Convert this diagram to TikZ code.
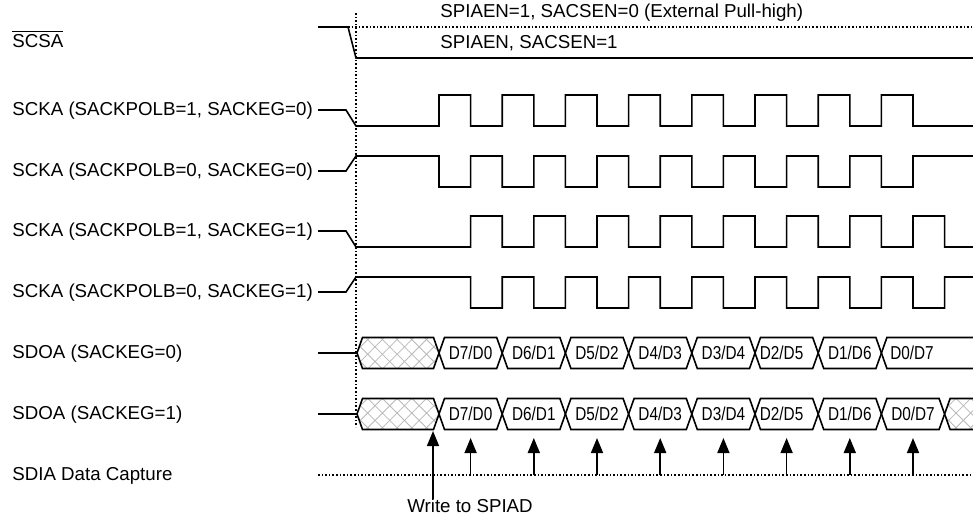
\documentclass[tikz,border=0pt]{standalone}
\usepackage{fontspec}
\setmainfont{Liberation Sans}
\newfontfamily\narrowsans[FakeStretch=0.82]{Liberation Sans}
\usetikzlibrary{arrows.meta,patterns.meta}

\begin{document}
\begin{tikzpicture}[
  x=0.5pt, y=-0.5pt,
  >={Triangle[width=6pt,length=7.5pt]},
  sig/.style={line width=0.8pt},
  guide/.style={line width=0.6pt, dash pattern=on 0.8pt off 1pt},
  lbl/.style={anchor=west, inner sep=0pt, font=\fontsize{9.35}{11}\selectfont},
  bits/.style={inner sep=0pt, font=\narrowsans\fontsize{9.35}{11}\selectfont},
  note/.style={inner sep=0pt, font=\fontsize{9.35}{11}\selectfont},
  hatch/.style={preaction={fill=white},
    preaction={pattern={Lines[angle=45,distance=5.2pt,line width=0.4pt]}, pattern color=gray!55},
    preaction={pattern={Lines[angle=-45,distance=5.2pt,line width=0.4pt]}, pattern color=gray!55}},
]
\useasboundingbox (0,0) rectangle (973,516);

% signal names
\node[lbl] (scsa) at (12,39) {$\overline{\mbox{SCSA}}$};
\node[lbl] (scka1) at (12,111) {SCKA (SACKPOLB=1, SACKEG=0)};
\node[lbl] (scka2) at (12,172) {SCKA (SACKPOLB=0, SACKEG=0)};
\node[lbl] (scka3) at (12,232) {SCKA (SACKPOLB=1, SACKEG=1)};
\node[lbl] (scka4) at (12,293) {SCKA (SACKPOLB=0, SACKEG=1)};
\node[lbl] (sdoa0) at (12,354) {SDOA (SACKEG=0)};
\node[lbl] (sdoa1) at (12,415) {SDOA (SACKEG=1)};
\node[lbl] (sdia) at (12,476) {SDIA Data Capture};

% chip select
\node[lbl] (pullhi) at (440,13) {SPIAEN=1, SACSEN=0 (External Pull-high)};
\node[lbl] (actlo) at (440,43) {SPIAEN, SACSEN=1};
\draw[sig] (318,27) -- (348,27) -- (356,58) -- (973,58);
\draw[guide] (348,27) -- (973,27);
\draw[guide] (356,13) -- (356,427);

% clocks
\draw[sig] (318,110) -- (346,110) -- (356,126)
  foreach \k in {0,...,7} { -- ({439+63.2*\k},126) -- ++(0,-31) -- ++(31.6,0) -- ++(0,31) }
  -- (973,126);
\draw[sig] (318,171) -- (346,171) -- (356,156)
  foreach \k in {0,...,7} { -- ({439+63.2*\k},156) -- ++(0,31) -- ++(31.6,0) -- ++(0,-31) }
  -- (973,156);
\draw[sig] (318,231) -- (346,231) -- (356,247)
  foreach \k in {0,...,7} { -- ({470.6+63.2*\k},247) -- ++(0,-31) -- ++(31.6,0) -- ++(0,31) }
  -- (973,247);
\draw[sig] (318,292) -- (346,292) -- (356,277)
  foreach \k in {0,...,7} { -- ({470.6+63.2*\k},277) -- ++(0,31) -- ++(31.6,0) -- ++(0,-31) }
  -- (973,277);

% data out
\foreach \ym/\n in {353/6, 414/7} {
  \draw[sig] (318,\ym) -- (357,\ym);
  \draw[sig,hatch] (357,\ym) -- (362.5,{\ym-15.5}) -- (433.5,{\ym-15.5}) -- (439,\ym)
    -- (433.5,{\ym+15.5}) -- (362.5,{\ym+15.5}) -- cycle;
  \foreach \i in {0,...,\n} {
    \pgfmathsetmacro\xa{439+63.2*\i}
    \pgfmathsetmacro\xb{\xa+63.2}
    \pgfmathsetmacro\dx{\i==5 ? -5 : 0}
    \pgfmathtruncatemacro\hi{7-\i}
    \draw[sig] (\xa,\ym) -- ({\xa+5.5},{\ym-15.5}) -- ({\xb-5.5},{\ym-15.5}) -- (\xb,\ym)
      -- ({\xb-5.5},{\ym+15.5}) -- ({\xa+5.5},{\ym+15.5}) -- cycle;
    \node[bits] (bit\ym\i) at ({(\xa+\xb)/2+\dx},\ym) {D\hi/D\i};
  }
}
\draw[sig] (973,337.5) -- (886.9,337.5) -- (881.4,353) -- (886.9,368.5) -- (973,368.5);
\node[bits] (bit3537) at (912,353) {D0/D7};
\path[hatch] (973,398.5) -- (950.1,398.5) -- (944.6,414) -- (950.1,429.5) -- (973,429.5) -- cycle;
\draw[sig] (973,398.5) -- (950.1,398.5) -- (944.6,414) -- (950.1,429.5) -- (973,429.5);

% data capture
\draw[guide] (318,475) -- (973,475);
\foreach \k in {0,...,7} {
  \coordinate (foot\k) at ({470.6+63.2*\k},475);
  \coordinate (tip\k) at ({470.6+63.2*\k},438);
  \draw[sig,->] (foot\k) -- (tip\k);
}
\node[note] (wr) at (470,506) {Write to SPIAD};
\coordinate (wrtip) at (433,431);
\draw[sig,->] (wr.north -| wrtip) -- (wrtip);
\end{tikzpicture}
\end{document}
